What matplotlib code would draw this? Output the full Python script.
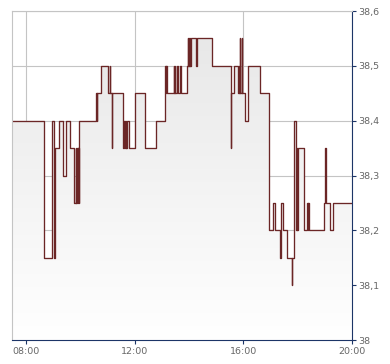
import matplotlib
matplotlib.use("Agg")
import matplotlib.pyplot as plt
import numpy as np
from matplotlib.patches import Polygon
from matplotlib.colors import LinearSegmentedColormap

# intraday quotes, each price holds until the next time stamp (step chart)
times = ["07:29", "08:40", "08:57", "09:02", "09:03", "09:13", "09:20", "09:28", "09:37", "09:46",
         "09:49", "09:50", "09:51", "09:52", "09:53", "09:54", "09:55", "09:56", "09:57",
         "10:33", "10:36", "10:37", "10:44", "11:01", "11:04", "11:06", "11:09", "11:10",
         "11:33", "11:37", "11:38", "11:40", "11:41", "11:43", "11:48", "12:01", "12:23", "12:47",
         "13:07", "13:08", "13:09", "13:10", "13:26", "13:27", "13:28", "13:29", "13:34", "13:36",
         "13:40", "13:41", "13:56", "13:57", "13:58", "13:59", "14:00", "14:01", "14:02", "14:03",
         "14:15", "14:17", "14:51", "15:32", "15:33", "15:40", "15:49", "15:50", "15:51", "15:52",
         "15:53", "15:56", "15:57", "16:03", "16:11", "16:37", "16:57", "17:06", "17:10",
         "17:21", "17:22", "17:23", "17:24", "17:28", "17:37", "17:47", "17:48", "17:52",
         "17:57", "17:58", "17:59", "18:00", "18:14", "18:21", "18:22", "18:23", "18:24",
         "18:57", "19:01", "19:02", "19:12", "19:19", "20:00"]
prices = [38.40, 38.15, 38.40, 38.15, 38.35, 38.40, 38.30, 38.40, 38.35, 38.25,
          38.35, 38.25, 38.35, 38.25, 38.35, 38.25, 38.35, 38.25, 38.40,
          38.45, 38.40, 38.45, 38.50, 38.45, 38.50, 38.45, 38.35, 38.45,
          38.35, 38.40, 38.35, 38.40, 38.35, 38.40, 38.35, 38.45, 38.35, 38.40,
          38.50, 38.45, 38.50, 38.45, 38.50, 38.45, 38.50, 38.45, 38.50, 38.45,
          38.50, 38.45, 38.50, 38.55, 38.50, 38.55, 38.50, 38.55, 38.50, 38.55,
          38.50, 38.55, 38.50, 38.35, 38.45, 38.50, 38.45, 38.50, 38.45, 38.55,
          38.45, 38.55, 38.45, 38.40, 38.50, 38.45, 38.20, 38.25, 38.20,
          38.15, 38.20, 38.15, 38.25, 38.20, 38.15, 38.10, 38.15, 38.40,
          38.20, 38.35, 38.20, 38.35, 38.20, 38.25, 38.20, 38.25, 38.20,
          38.25, 38.35, 38.25, 38.20, 38.25, 38.25]

x_ticks = ["08:00", "12:00", "16:00", "20:00"]
y_ticks = [38.0, 38.1, 38.2, 38.3, 38.4, 38.5, 38.6]
y_labels = ["38", "38,1", "38,2", "38,3", "38,4", "38,5", "38,6"]


def to_min(s):
    h, m = s.split(":")
    return int(h) * 60 + int(m)


t = np.array([to_min(s) for s in times], dtype=float)
p = np.array(prices)

navy = "#1c3567"
grid = "#c4c4c4"
line_col = "#6b2626"

fig = plt.figure(figsize=(3.9, 3.64), dpi=100)
ax = fig.add_axes([12.3 / 390, 1 - 340 / 364, (352 - 12.3) / 390, (340 - 11) / 364])
ax.set_xlim(t[0], t[-1])
ax.set_ylim(38.0, 38.6)

# step outline -> polygon for the gradient area
xs = np.repeat(t, 2)[1:]
ys = np.repeat(p, 2)[:-1]
verts = np.column_stack([np.r_[xs, xs[-1], xs[0]], np.r_[ys, 38.0, 38.0]])
poly = Polygon(verts, closed=True, facecolor="none", edgecolor="none", transform=ax.transData)
ax.add_patch(poly)

cmap = LinearSegmentedColormap.from_list("g", ["#ffffff", "#e6e6e6"])
grad = np.linspace(0, 1, 256).reshape(-1, 1)
im = ax.imshow(grad, extent=[t[0], t[-1], 38.0, 38.6], origin="lower", aspect="auto",
               cmap=cmap, vmin=0, vmax=1, zorder=1)
im.set_clip_path(poly)

ax.step(t, p, where="post", color=line_col, lw=0.95, zorder=3)

ax.set_xticks([to_min(s) for s in x_ticks])
ax.set_xticklabels(x_ticks)
ax.set_yticks(y_ticks)
ax.set_yticklabels(y_labels)
ax.yaxis.tick_right()
ax.grid(True, color=grid, lw=0.8, zorder=0)
ax.set_axisbelow(True)

ax.spines["left"].set_color(grid)
ax.spines["top"].set_color(grid)
ax.spines["bottom"].set_color(navy)
ax.spines["right"].set_color(navy)
for s in ax.spines.values():
    s.set_linewidth(0.8)
    s.set_zorder(4)

ax.tick_params(axis="both", colors=navy, labelcolor="#666666", labelsize=6.8,
               length=3, width=0.8, direction="out")
ax.tick_params(axis="x", pad=2)
ax.tick_params(axis="y", pad=1.5)

fig.savefig("out.png", dpi=100)
